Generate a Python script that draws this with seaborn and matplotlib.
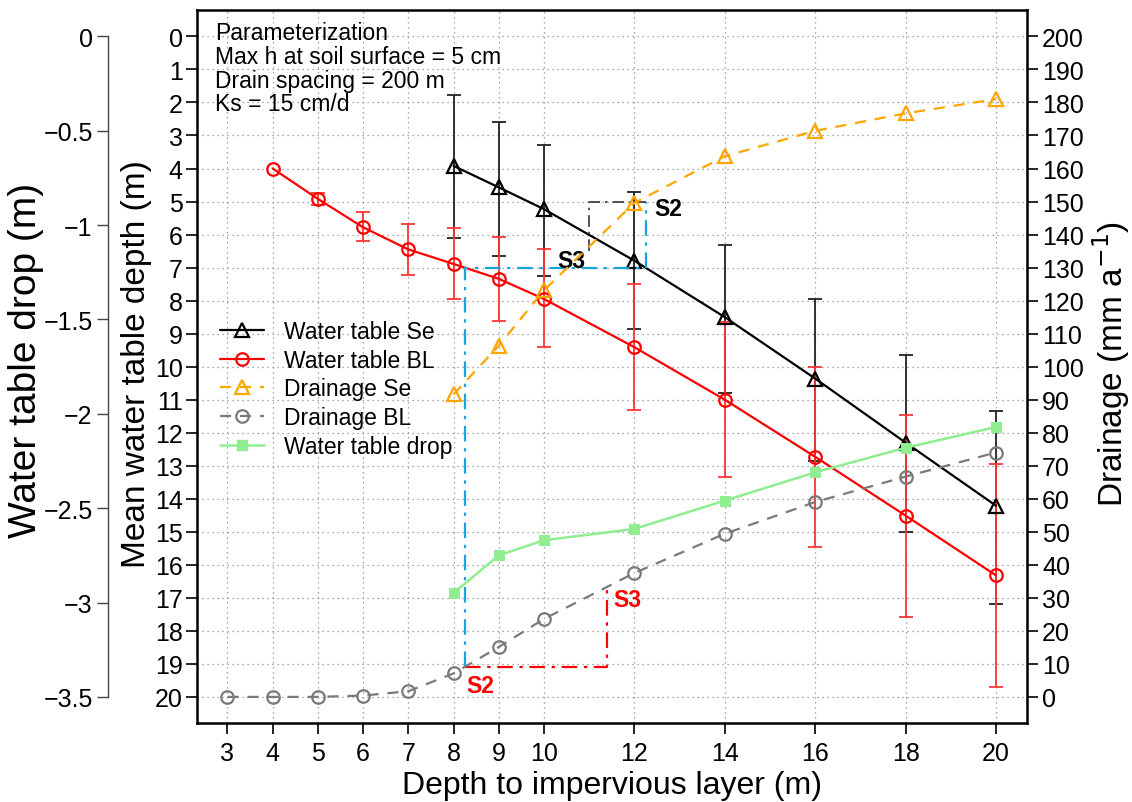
import numpy as np
import matplotlib
matplotlib.use("Agg")
import matplotlib.pyplot as plt
from matplotlib.lines import Line2D
import seaborn as sns

# depth to impervious layer (m)
depth_se = [8, 9, 10, 12, 14, 16, 18, 20]
depth_bl = [4, 5, 6, 7, 8, 9, 10, 12, 14, 16, 18, 20]
depth_drain_bl = [3, 4, 5, 6, 7, 8, 9, 10, 12, 14, 16, 18, 20]

# mean water table depth (m), with error bar ends
wt_se = [3.92, 4.57, 5.23, 6.79, 8.50, 10.36, 12.30, 14.21]
wt_se_top = [1.78, 2.59, 3.28, 4.72, 6.31, 7.95, 9.66, 11.35]
wt_se_bot = [6.09, 6.64, 7.24, 8.85, 10.79, 12.86, 15.02, 17.19]

wt_bl = [4.0, 4.92, 5.78, 6.45, 6.89, 7.34, 7.95, 9.41, 11.0, 12.73, 14.51, 16.32]
wt_bl_top = [4.0, 4.75, 5.33, 5.68, 5.81, 6.08, 6.43, 7.49, 8.65, 10.01, 11.45, 12.96]
wt_bl_bot = [4.0, 5.10, 6.21, 7.22, 7.95, 8.63, 9.41, 11.32, 13.33, 15.45, 17.58, 19.70]

# drainage (mm/a)
drain_se = [91.6, 106.3, 123.1, 149.6, 163.7, 171.4, 176.7, 181.0]
drain_bl = [0, 0, 0, 0.4, 1.7, 7.1, 15.1, 23.6, 37.5, 49.4, 59.0, 66.7, 74.0]

# water table drop (m)
wt_drop = [-2.95, -2.75, -2.67, -2.61, -2.46, -2.31, -2.18, -2.07]

# axis ticks
x_ticks = [3, 4, 5, 6, 7, 8, 9, 10, 12, 14, 16, 18, 20]
depth_ticks = list(range(0, 21))
drain_ticks = list(range(0, 201, 10))
drop_ticks = [0, -0.5, -1, -1.5, -2, -2.5, -3, -3.5]
drop_labels = ["0", "\u22120.5", "\u22121", "\u22121.5", "\u22122", "\u22122.5", "\u22123", "\u22123.5"]

# S2 / S3 guide lines (in depth / drainage units)
blue_x = [8.25, 8.25, 12.25, 12.25]
blue_y = [9, 130, 130, 150]
black_x = [11, 11, 12.25]
black_y = [135, 150, 150]
red_x = [8.25, 11.4, 11.4]
red_y = [9, 9, 33]

sns.set_theme(style="ticks")
plt.rcParams["font.family"] = ["Liberation Sans", "DejaVu Sans"]
plt.rcParams.update({"text.color": "black", "axes.labelcolor": "black",
                     "xtick.color": "black", "ytick.color": "black"})

fig = plt.figure(figsize=(11.32, 8.03), dpi=100)
ax = fig.add_axes([0.1738, 0.098, 0.7332, 0.8883])
ax_r = ax.twinx()
ax_d = ax.twinx()

ORANGE = "#FFA500"
GREY = "#7a7a7a"
GREEN = "#90EE90"
BLUE = "#1AA3E0"
RED = "#FF0000"
TICK_FS = 18

# main axis: water table depth
ax.set_xlim(2.32, 20.68)
ax.set_ylim(20.8, -0.8)
ax.set_xticks(x_ticks)
ax.set_yticks(depth_ticks)
ax.grid(True, linestyle=(0, (1, 3)), color="#8c8c8c", linewidth=0.9)
ax.tick_params(axis="both", labelsize=TICK_FS, length=8, width=1.2, color="black", direction="out")
ax.tick_params(axis="x", pad=5)
ax.tick_params(axis="y", pad=2)
for s in ax.spines.values():
    s.set_linewidth(1.8)
    s.set_color("black")

se_arr = np.array(wt_se)
ax.errorbar(depth_se, wt_se, yerr=[se_arr - np.array(wt_se_top), np.array(wt_se_bot) - se_arr],
            fmt="none", ecolor="#222222", elinewidth=1.3, capsize=5, capthick=1.3, zorder=3)
bl_arr = np.array(wt_bl)
keep = np.array(wt_bl_bot) > np.array(wt_bl_top)
ax.errorbar(np.array(depth_bl)[keep], bl_arr[keep],
            yerr=[(bl_arr - np.array(wt_bl_top))[keep], (np.array(wt_bl_bot) - bl_arr)[keep]],
            fmt="none", ecolor="#FF3535", elinewidth=1.3, capsize=5, capthick=1.3, zorder=3)

sns.lineplot(x=depth_se, y=wt_se, ax=ax, color="black", linewidth=1.6, marker="^",
             markersize=10, markerfacecolor="none", markeredgecolor="black", markeredgewidth=1.6, zorder=4)
sns.lineplot(x=depth_bl, y=wt_bl, ax=ax, color=RED, linewidth=1.6, marker="o",
             markersize=9, markerfacecolor="none", markeredgecolor=RED, markeredgewidth=1.6, zorder=4)
ax.set_xlabel("Depth to impervious layer (m)", fontsize=23, labelpad=3)
ax.set_ylabel("")

# right axis: drainage
ax_r.set_ylim(-8, 208)
ax_r.set_yticks(drain_ticks)
ax_r.tick_params(axis="y", labelsize=TICK_FS, length=8, width=1.2, pad=3)
sns.lineplot(x=depth_se, y=drain_se, ax=ax_r, color=ORANGE, linewidth=1.6, linestyle=(0, (5, 4)),
             marker="^", markersize=10, markerfacecolor="none", markeredgecolor=ORANGE,
             markeredgewidth=1.6, zorder=4)
sns.lineplot(x=depth_drain_bl, y=drain_bl, ax=ax_r, color=GREY, linewidth=1.6, linestyle=(0, (5, 4)),
             marker="o", markersize=9, markerfacecolor="none", markeredgecolor=GREY,
             markeredgewidth=1.6, zorder=4)
ax_r.set_ylabel("")
for s in ax_r.spines.values():
    s.set_visible(False)

# guide lines
ax_r.plot(blue_x, blue_y, color=BLUE, linewidth=1.6, linestyle=(0, (7, 3, 1.5, 3)), zorder=2)
ax_r.plot(black_x, black_y, color="#333333", linewidth=1.2, linestyle=(0, (7, 3, 1.5, 3)), zorder=2)
ax_r.plot(red_x, red_y, color=RED, linewidth=1.6, linestyle=(0, (7, 3, 1.5, 3)), zorder=2)
ax_r.text(12.45, 148, "S2", fontsize=16.5, fontweight="bold", color="black", ha="left", va="center")
ax_r.text(10.93, 132, "S3", fontsize=16.5, fontweight="bold", color="black", ha="right", va="center")
ax_r.text(8.29, 3.4, "S2", fontsize=16.5, fontweight="bold", color=RED, ha="left", va="center")
ax_r.text(11.53, 29.4, "S3", fontsize=16.5, fontweight="bold", color=RED, ha="left", va="center")

# far-left axis: water table drop
ax_d.set_ylim(-3.64, 0.14)
ax_d.yaxis.tick_left()
ax_d.set_yticks(drop_ticks)
ax_d.set_yticklabels(drop_labels)
ax_d.tick_params(axis="y", labelsize=TICK_FS, length=8, width=1.0, color="#444444", pad=3)
for name, s in ax_d.spines.items():
    s.set_visible(name == "left")
ax_d.spines["left"].set_position(("axes", -0.1069))
ax_d.spines["left"].set_bounds(-3.5, 0)
ax_d.spines["left"].set_color("#444444")
ax_d.spines["left"].set_linewidth(1.0)
sns.lineplot(x=depth_se, y=wt_drop, ax=ax_d, color=GREEN, linewidth=1.8, marker="s",
             markersize=7, markerfacecolor=GREEN, markeredgecolor=GREEN, zorder=4)
ax_d.set_ylabel("")

# axis titles
fig.text(136 / 1132, 1 - 364 / 803, "Mean water table depth (m)", rotation=90,
         ha="center", va="center", fontsize=24)
fig.text(26 / 1132, 1 - 360 / 803, "Water table drop (m)", rotation=90,
         ha="center", va="center", fontsize=28)
fig.text(1111 / 1132, 1 - 364 / 803, "Drainage (mm a$^{-1}$)", rotation=90,
         ha="center", va="center", fontsize=24)

# parameter box
ax.text(0.022, 0.985, "Parameterization\nMax h at soil surface = 5 cm\nDrain spacing = 200 m\nKs = 15 cm/d",
        transform=ax.transAxes, ha="left", va="top", fontsize=16.5, linespacing=1.05)

# legend
handles = [
    Line2D([], [], color="black", linewidth=1.6, marker="^", markersize=10,
           markerfacecolor="none", markeredgewidth=1.6),
    Line2D([], [], color=RED, linewidth=1.6, marker="o", markersize=9,
           markerfacecolor="none", markeredgewidth=1.6),
    Line2D([], [], color=ORANGE, linewidth=1.6, linestyle=(0, (5, 4)), marker="^", markersize=10,
           markerfacecolor="none", markeredgewidth=1.6),
    Line2D([], [], color=GREY, linewidth=1.6, linestyle=(0, (5, 4)), marker="o", markersize=9,
           markerfacecolor="none", markeredgewidth=1.6),
    Line2D([], [], color=GREEN, linewidth=1.8, marker="s", markersize=7),
]
labels = ["Water table Se", "Water table BL", "Drainage Se", "Drainage BL", "Water table drop"]
ax_d.legend(handles, labels, loc="upper left", bbox_to_anchor=(0.028, 0.566), frameon=False,
            fontsize=16.5, handlelength=1.9, handletextpad=0.9, labelspacing=0.26, borderpad=0,
            borderaxespad=0)

fig.savefig("out.png", dpi=100)
